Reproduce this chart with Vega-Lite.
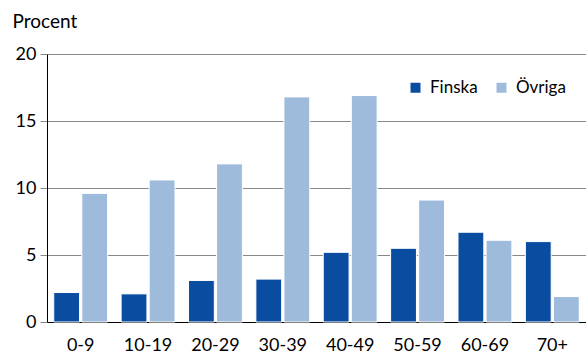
{
  "$schema": "https://vega.github.io/schema/vega-lite/v6.json",
  "width": 539,
  "height": 268,
  "autosize": {"type": "none"},
  "padding": {"left": 47, "top": 54, "right": 0, "bottom": 32},
  "background": "white",
  "config": {"font": "Lato", "view": {"stroke": null}},
  "data": {
    "values": [
      {"age": "0-9", "group": "Finska", "value": 2.2},
      {"age": "0-9", "group": "Övriga", "value": 9.6},
      {"age": "10-19", "group": "Finska", "value": 2.1},
      {"age": "10-19", "group": "Övriga", "value": 10.6},
      {"age": "20-29", "group": "Finska", "value": 3.1},
      {"age": "20-29", "group": "Övriga", "value": 11.8},
      {"age": "30-39", "group": "Finska", "value": 3.2},
      {"age": "30-39", "group": "Övriga", "value": 16.8},
      {"age": "40-49", "group": "Finska", "value": 5.2},
      {"age": "40-49", "group": "Övriga", "value": 16.9},
      {"age": "50-59", "group": "Finska", "value": 5.5},
      {"age": "50-59", "group": "Övriga", "value": 9.1},
      {"age": "60-69", "group": "Finska", "value": 6.7},
      {"age": "60-69", "group": "Övriga", "value": 6.1},
      {"age": "70+", "group": "Finska", "value": 6.0},
      {"age": "70+", "group": "Övriga", "value": 1.9}
    ]
  },
  "mark": {"type": "bar", "stroke": "white", "strokeWidth": 1},
  "encoding": {
    "x": {
      "field": "age",
      "type": "nominal",
      "sort": ["0-9", "10-19", "20-29", "30-39", "40-49", "50-59", "60-69", "70+"],
      "scale": {"paddingInner": 0.2, "paddingOuter": 0.1},
      "axis": {
        "title": null,
        "labelAngle": 0,
        "ticks": false,
        "labelPadding": 14,
        "labelFontSize": 18,
        "labelColor": "#000",
        "domainColor": "#000",
        "grid": false
      }
    },
    "xOffset": {
      "field": "group",
      "sort": ["Finska", "Övriga"],
      "scale": {"paddingInner": 0.08}
    },
    "y": {
      "field": "value",
      "type": "quantitative",
      "scale": {"domain": [0, 20]},
      "axis": {
        "values": [0, 5, 10, 15, 20],
        "title": "Procent",
        "titleAngle": 0,
        "titleX": -35,
        "titleY": -27,
        "titleAlign": "left",
        "titleBaseline": "alphabetic",
        "titleFontWeight": "normal",
        "titleFontSize": 19,
        "titleColor": "#000",
        "gridColor": "#888",
        "domainColor": "#000",
        "tickColor": "#888",
        "tickSize": 7,
        "labelPadding": 4,
        "labelFontSize": 18,
        "labelColor": "#000"
      }
    },
    "color": {
      "field": "group",
      "type": "nominal",
      "scale": {"domain": ["Finska", "Övriga"], "range": ["#0A4DA0", "#9FBBDC"]},
      "legend": {
        "title": null,
        "orient": "none",
        "legendX": 360,
        "legendY": 25,
        "direction": "horizontal",
        "symbolType": "square",
        "symbolSize": 100,
        "symbolStrokeWidth": 0,
        "labelFontSize": 17,
        "labelColor": "#000",
        "labelOffset": 6,
        "columnPadding": 15
      }
    }
  }
}
